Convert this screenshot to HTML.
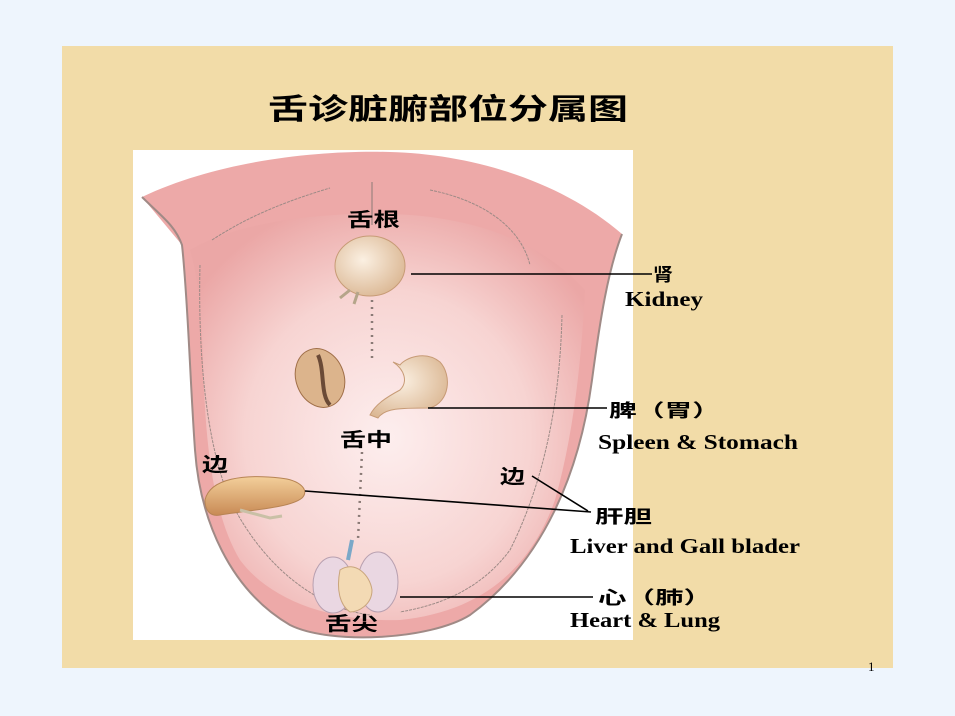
<!DOCTYPE html>
<html><head><meta charset="utf-8"><style>
html,body{margin:0;padding:0;width:955px;height:716px;overflow:hidden;background:#eef5fd;}
svg{display:block}
</style></head><body>
<svg width="955" height="716" viewBox="0 0 955 716" xmlns="http://www.w3.org/2000/svg">
<defs>
<radialGradient id="tg" cx="0.5" cy="0.55" r="0.6">
<stop offset="0" stop-color="#fdeeee"/><stop offset="0.6" stop-color="#f7d4d2"/><stop offset="1" stop-color="#eba7a6"/>
</radialGradient>
<radialGradient id="org" cx="0.4" cy="0.4" r="0.7">
<stop offset="0" stop-color="#fbf0e2"/><stop offset="1" stop-color="#d9b48f"/>
</radialGradient>
<linearGradient id="liv" x1="0" y1="0" x2="0" y2="1">
<stop offset="0" stop-color="#f3cf9a"/><stop offset="1" stop-color="#c88a55"/>
</linearGradient>
</defs>
<rect x="62" y="46" width="831" height="622" fill="#f2dca8"/>
<rect x="133" y="150" width="500" height="490" fill="#ffffff"/>
<path d="M142,197 C220,160 320,150 390,152 C470,154 560,180 622,234 C608,270 600,320 592,380 C580,470 545,560 470,615 C430,640 330,645 290,625 C230,590 200,520 195,450 C190,380 188,300 182,245 Z" fill="#eda9a8"/>
<path d="M190,250 C240,220 330,212 390,214 C470,216 540,240 585,290 C582,350 575,430 555,500 C530,570 480,612 400,620 C330,622 270,600 240,560 C210,510 205,430 203,360 C201,300 196,270 190,250 Z" fill="url(#tg)"/>
<path d="M142,197 C160,215 175,225 182,245 C188,300 190,380 195,450 C200,520 230,590 290,625 C330,645 430,640 470,615 C545,560 580,470 592,380 C600,320 608,270 622,234" fill="none" stroke="#a08a86" stroke-width="2"/>
<path d="M212,240 C250,215 290,200 330,188" fill="none" stroke="#9c8a86" stroke-width="1" stroke-dasharray="3,1"/>
<path d="M430,190 C480,200 520,225 530,265" fill="none" stroke="#9c8a86" stroke-width="1" stroke-dasharray="3,1"/>
<path d="M200,265 C198,350 205,440 230,500 C270,580 330,610 370,615" fill="none" stroke="#9c8a86" stroke-width="1" stroke-dasharray="3,1"/>
<path d="M562,315 C560,400 545,480 510,550 C480,590 440,605 400,612" fill="none" stroke="#9c8a86" stroke-width="1" stroke-dasharray="3,1"/>
<line x1="372" y1="182" x2="372" y2="225" stroke="#8a7a76" stroke-width="1"/>
<line x1="372" y1="300" x2="372" y2="362" stroke="#8a7a76" stroke-width="2.5" stroke-dasharray="2,5"/>
<line x1="362" y1="452" x2="358" y2="540" stroke="#8a7a76" stroke-width="2.5" stroke-dasharray="2,5"/>
<ellipse cx="370" cy="266" rx="35" ry="30" fill="url(#org)" stroke="#c79b76" stroke-width="1"/>
<path d="M350,290 l-10,8 M358,292 l-4,12" stroke="#b5a58a" stroke-width="3"/>
<ellipse cx="320" cy="378" rx="24" ry="30" transform="rotate(-20 320 378)" fill="#dcb48c" stroke="#a06f48"/>
<path d="M318,355 C325,370 320,395 330,405" stroke="#6b4a36" stroke-width="4" fill="none"/>
<path d="M393,362 C405,370 408,382 400,390 C385,398 375,405 370,415 L378,418 C385,408 400,408 430,408 C450,402 452,375 440,362 C425,350 405,358 400,365 Z" fill="url(#org)" stroke="#c79b76"/>
<path d="M205,500 C210,478 245,474 280,478 C300,480 310,490 302,498 C290,508 250,510 220,515 C210,517 205,510 205,500 Z" fill="url(#liv)" stroke="#b78454"/>
<path d="M240,510 l30,8 l12,-2" stroke="#c9c0a6" stroke-width="3" fill="none"/>
<path d="M352,540 l-4,20" stroke="#7aa8c8" stroke-width="4"/>
<ellipse cx="333" cy="585" rx="20" ry="28" fill="#ead7e2" stroke="#b8a0b0"/>
<ellipse cx="378" cy="582" rx="20" ry="30" fill="#ead7e2" stroke="#b8a0b0"/>
<path d="M340,570 C355,560 370,575 372,590 C372,605 358,612 350,612 C340,605 336,590 340,570 Z" fill="#f3dab4" stroke="#c9a57c"/>
<g stroke="#000" stroke-width="1.6" fill="none">
<line x1="411" y1="274" x2="652" y2="274"/>
<line x1="428" y1="408" x2="607" y2="408"/>
<line x1="305" y1="491" x2="591" y2="512"/>
<line x1="532" y1="476" x2="588" y2="511"/>
<line x1="400" y1="597" x2="593" y2="597"/>
</g>
<g font-family="'Liberation Sans','Noto Sans CJK SC',sans-serif" font-weight="bold" fill="#000" lengthAdjust="spacingAndGlyphs">
<text x="268" y="119" font-size="29" textLength="360" lengthAdjust="spacingAndGlyphs">舌诊脏腑部位分属图</text>
<text x="347" y="226" font-size="19" textLength="53" lengthAdjust="spacingAndGlyphs">舌根</text>
<text x="340" y="446" font-size="19" textLength="52" lengthAdjust="spacingAndGlyphs">舌中</text>
<text x="325" y="630" font-size="19" textLength="53" lengthAdjust="spacingAndGlyphs">舌尖</text>
<text x="202" y="471" font-size="19" textLength="26" lengthAdjust="spacingAndGlyphs">边</text>
<text x="500" y="483" font-size="19" textLength="25" lengthAdjust="spacingAndGlyphs">边</text>
<text x="653" y="281" font-size="18" textLength="20" lengthAdjust="spacingAndGlyphs">肾</text>
<text x="609" y="417" font-size="18" textLength="111" lengthAdjust="spacingAndGlyphs">脾（胃）</text>
<text x="595" y="523" font-size="18" textLength="57" lengthAdjust="spacingAndGlyphs">肝胆</text>
<text x="598" y="604" font-size="18" textLength="114" lengthAdjust="spacingAndGlyphs">心（肺）</text>
</g>
<g font-family="'Liberation Serif',serif" font-weight="bold" fill="#000" font-size="21">
<text x="625" y="306" textLength="78" lengthAdjust="spacingAndGlyphs">Kidney</text>
<text x="598" y="449" textLength="200" lengthAdjust="spacingAndGlyphs">Spleen &amp; Stomach</text>
<text x="570" y="553" textLength="230" lengthAdjust="spacingAndGlyphs">Liver and Gall blader</text>
<text x="570" y="627" textLength="150" lengthAdjust="spacingAndGlyphs">Heart &amp; Lung</text>
</g>
<text x="868" y="671" font-family="'Liberation Serif',serif" font-size="13" fill="#000">1</text>
</svg>
</body></html>
